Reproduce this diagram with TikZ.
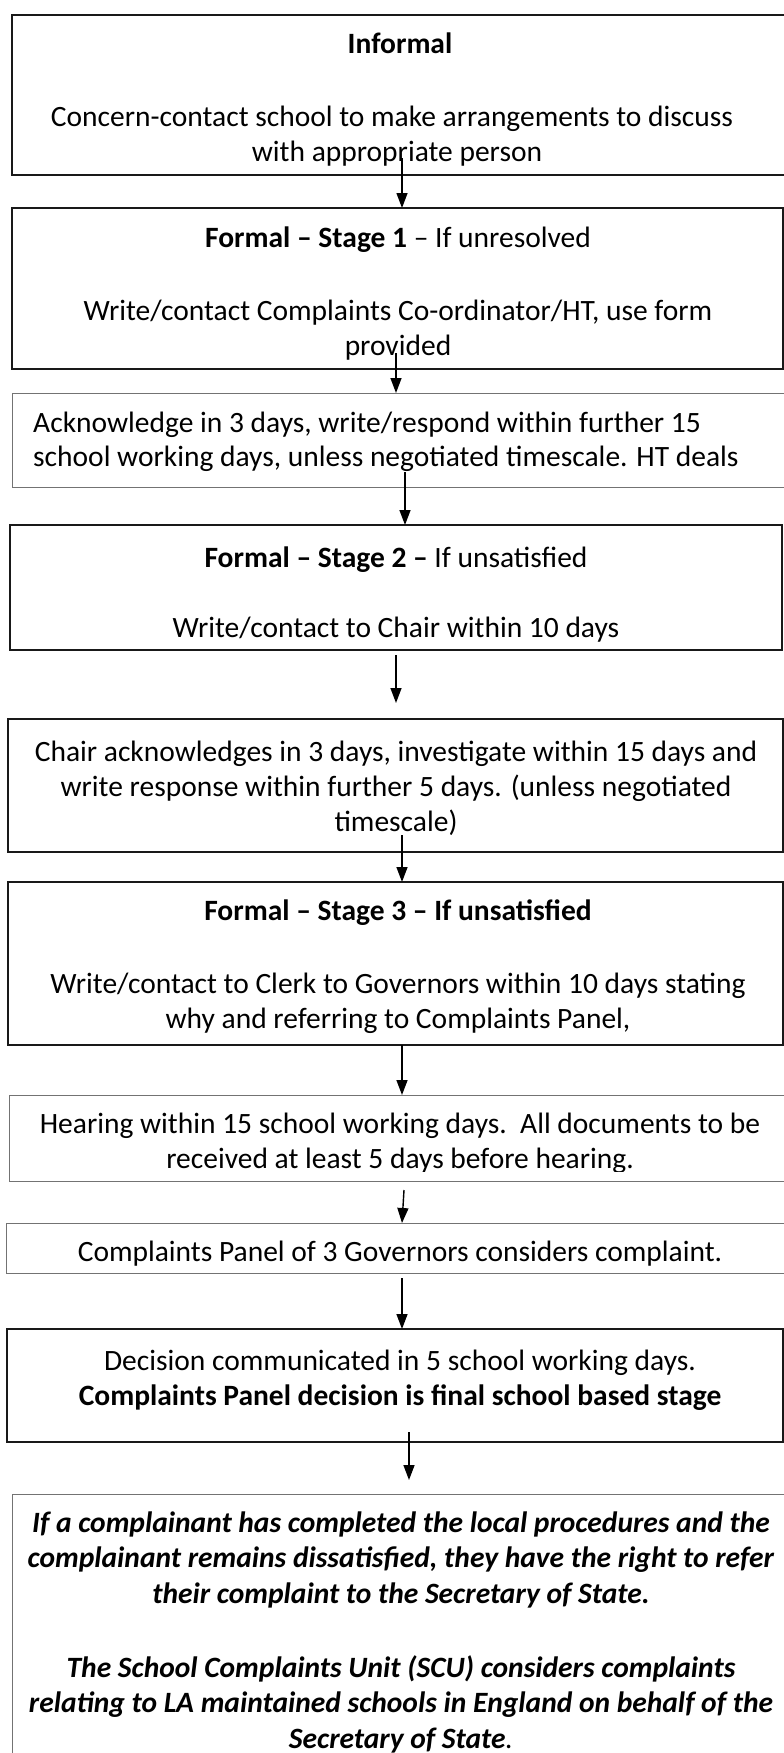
\documentclass[tikz,border=0pt]{standalone}
\usepackage{fontspec}
\setmainfont{Carlito}
\usetikzlibrary{arrows.meta}
\tikzset{
  boxbase/.style={anchor=north west, inner sep=0pt, outer sep=0pt, fill=none},
  thickbox/.style={boxbase, draw=black!90, line width=2pt},
  thinbox/.style={boxbase, draw=black!55, line width=1pt},
  txt/.style={anchor=base, inner sep=0pt, font=\fontsize{29.5}{35}\selectfont},
  txtl/.style={anchor=base west, inner sep=0pt, font=\fontsize{29.5}{35}\selectfont},
  arr/.style={line width=1.4pt, -{Triangle[width=11pt,length=15pt]}},
}
\begin{document}
\begin{tikzpicture}[x=1pt,y=-1pt]
\useasboundingbox (0,0) rectangle (784,1753);
% boxes
\node[thickbox, minimum width=788pt, minimum height=160pt] (b1) at (12,15) {};
\node[thickbox, minimum width=771pt, minimum height=161pt] (b2) at (12,208) {};
\node[thinbox,  minimum width=788pt, minimum height=94pt]  (b3) at (12,393) {};
\node[thickbox, minimum width=772pt, minimum height=125pt] (b4) at (10,525) {};
\node[thickbox, minimum width=775pt, minimum height=133pt] (b5) at (8,719) {};
\node[thickbox, minimum width=775pt, minimum height=163pt] (b6) at (8,882) {};
\node[thinbox,  minimum width=791pt, minimum height=86pt]  (b7) at (9,1095) {};
\node[thinbox,  minimum width=794pt, minimum height=50pt]  (b8) at (6,1223) {};
\node[thickbox, minimum width=776pt, minimum height=113pt] (b9) at (7,1329) {};
\node[thinbox,  minimum width=788pt, minimum height=306pt] (b10) at (12,1494) {};

% texts
\node[txt] (t1a) at (400,53) {\textbf{Informal}};
\node[txt] (t1b) at (392,126) {Concern-contact school to make arrangements to discuss};
\node[txt] (t1c) at (397,161) {with appropriate person};

\node[txt] (t2a) at (398,247) {\textbf{Formal – Stage 1} – If unresolved};
\node[txt] (t2b) at (398,320) {Write/contact Complaints Co-ordinator/HT, use form};
\node[txt] (t2c) at (398,355) {provided};

\node[txtl] (t3a) at (33,432) {Acknowledge in 3 days, write/respond within further 15};
\node[txtl] (t3b) at (33,466) {school working days, unless negotiated timescale. HT deals};

\node[txt] (t4a) at (396,567) {\textbf{Formal – Stage 2 –} If unsatisfied};
\node[txt] (t4b) at (396,637) {Write/contact to Chair within 10 days};

\node[txt] (t5a) at (396,761) {Chair acknowledges in 3 days, investigate within 15 days and};
\node[txt] (t5b) at (396,796) {write response within further 5 days. (unless negotiated};
\node[txt] (t5c) at (396,831) {timescale)};

\node[txt] (t6a) at (398,920) {\textbf{Formal – Stage 3 – If unsatisfied}};
\node[txt] (t6b) at (398,993) {Write/contact to Clerk to Governors within 10 days stating};
\node[txt] (t6c) at (398,1028) {why and referring to Complaints Panel,};

\node[txt] (t7a) at (400,1133) {Hearing within 15 school working days.\ \ All documents to be};
\begin{scope}
\clip (0,1100) rectangle (784,1171);
\node[txt] (t7b) at (400,1168) {received at least 5 days before hearing.};
\end{scope}

\node[txt] (t8a) at (400,1261) {Complaints Panel of 3 Governors considers complaint.};

\node[txt] (t9a) at (400,1370) {Decision communicated in 5 school working days.};
\node[txt] (t9b) at (400,1405) {\textbf{Complaints Panel decision is final school based stage}};

\node[txt] (t10a) at (401,1532) {\textbf{\itshape If a complainant has completed the local procedures and the}};
\node[txt] (t10b) at (401,1567) {\textbf{\itshape complainant remains dissatisfied, they have the right to refer}};
\node[txt] (t10c) at (401,1603) {\textbf{\itshape their complaint to the Secretary of State.}};
\node[txt] (t10d) at (401,1677) {\textbf{\itshape The School Complaints Unit (SCU) considers complaints}};
\node[txt] (t10e) at (401,1712) {\textbf{\itshape relating to LA maintained schools in England on behalf of the}};
\node[txt] (t10f) at (401,1748) {\textbf{\itshape Secretary of State}\textit{.}};

% arrows
\coordinate (a1s) at (402,158);
\coordinate (a2s) at (396,353);
\coordinate (a3s) at (405,472);
\coordinate (a4s) at (396,655);  \coordinate (a4e) at (396,703);
\coordinate (a5s) at (402,835);
\coordinate (a7s) at (404,1190);
\coordinate (a8s) at (402,1278);
\coordinate (a9s) at (409,1432); \coordinate (a9e) at (409,1480);
\draw[arr] (a1s) -- (a1s |- b2.north);
\draw[arr] (a2s) -- (a2s |- b3.north);
\draw[arr] (a3s) -- (a3s |- b4.north);
\draw[arr] (a4s) -- (a4e);
\draw[arr] (a5s) -- (a5s |- b6.north);
\draw[arr] (a5s |- b6.south) -- (a5s |- b7.north);
\draw[arr] (a7s) -- (a8s |- b8.north);
\draw[arr] (a8s) -- (a8s |- b9.north);
\draw[arr] (a9s) -- (a9e);
\end{tikzpicture}
\end{document}
